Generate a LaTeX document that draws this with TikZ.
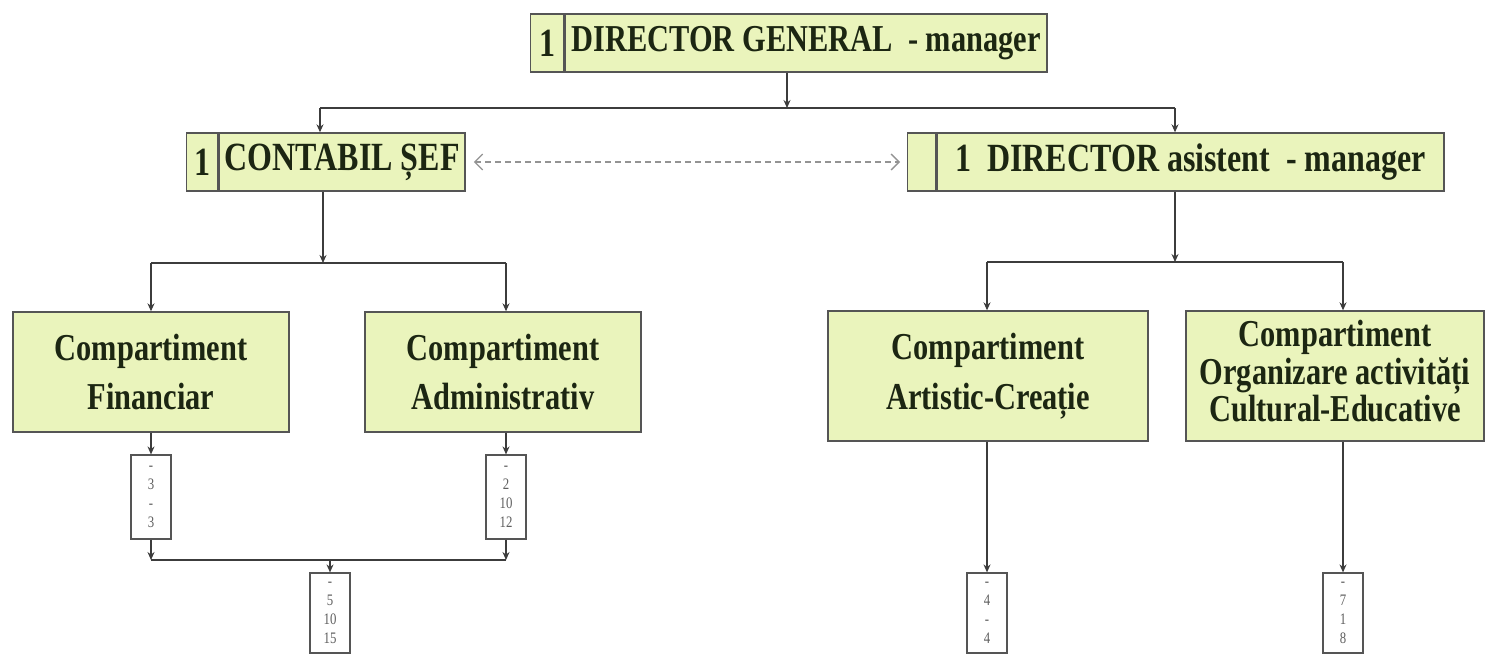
\documentclass[tikz,border=0pt]{standalone}
\usepackage{fontspec}
\setmainfont{Liberation Serif}[FakeStretch=0.8]
\usetikzlibrary{positioning, arrows.meta}
\definecolor{boxfill}{RGB}{234,244,188}
\definecolor{boxline}{RGB}{85,85,85}
\definecolor{boxtext}{RGB}{28,38,18}
\definecolor{linkcolor}{RGB}{60,60,60}
\definecolor{counttext}{RGB}{95,95,95}

\begin{document}
\begin{tikzpicture}[x=0.5pt, y=-0.5pt,
    cell/.style={draw=boxline, line width=0.7pt, fill=boxfill, text=boxtext, inner sep=0pt,
        font=\fontsize{20}{22}\selectfont\bfseries},
    head/.style={cell, minimum height=29pt},
    dept/.style={cell, align=center, font=\fontsize{19}{22}\selectfont\bfseries},
    count/.style={draw=boxline, line width=0.6pt, fill=white, text=counttext, inner sep=0pt,
        font=\fontsize{8}{9.5}\selectfont, align=center, minimum width=20pt},
    link/.style={draw=linkcolor, line width=0.6pt},
    arrow/.style={link, -{Stealth[length=4pt, width=3.5pt]}},
    dashlink/.style={draw=gray!85, line width=0.65pt, dash pattern=on 3pt off 2pt,
        {Straight Barb[length=4pt, width=8pt]}-{Straight Barb[length=4pt, width=8pt]},
        shorten <=4pt, shorten >=3.5pt},
]
    \useasboundingbox (0,0) rectangle (1487,655);

    % management
    \node[head, minimum width=16.5pt, anchor=west] (dgnum) at (530,43) {1};
    \node[head, minimum width=241pt, right=0pt of dgnum, font=\fontsize{19}{22}\selectfont\bfseries] (dg)
        {DIRECTOR GENERAL\ \ - manager};
    \node[head, minimum width=15.5pt, anchor=west] (csnum) at (186,162) {1};
    \node[head, minimum width=123pt, right=0pt of csnum] (cs) {CONTABIL ȘEF};
    \node[head, minimum width=14pt, anchor=west] (danum) at (907,162) {};
    \node[head, minimum width=253.5pt, right=0pt of danum] (da) {1\ \ DIRECTOR asistent\ \ - manager};

    % compartments
    \node[dept, minimum width=138pt, minimum height=60pt] (fin) at (151,372) {Compartiment\\[2.5pt]Financiar};
    \node[dept, minimum width=138pt, minimum height=60pt] (adm) at (503,372) {Compartiment\\[2.5pt]Administrativ};
    \node[dept, minimum width=160pt, minimum height=65pt] (art) at (988,376) {Compartiment\\[3pt]Artistic-Creație};
    \node[dept, minimum width=149pt, minimum height=65pt, font=\fontsize{19}{17.5}\selectfont\bfseries] (org) at (1335,376)
        {\raisebox{4pt}{\begin{tabular}{@{}c@{}}Compartiment\\Organizare activități\\Cultural-Educative\end{tabular}}};

    % staff counts
    \node[count, minimum height=42pt] (fincnt) at (151,497) {-\\3\\-\\3};
    \node[count, minimum height=42pt] (admcnt) at (506,497) {-\\2\\10\\12};
    \node[count, minimum height=40pt] (totcnt) at (330,613) {-\\5\\10\\15};
    \node[count, minimum height=40pt] (artcnt) at (987,613) {-\\4\\-\\4};
    \node[count, minimum height=40pt] (orgcnt) at (1343,613) {-\\7\\1\\8};

    % connectors
    \coordinate (j1) at (787,108);
    \coordinate (jl) at (320,108);
    \coordinate (jr) at (1175,108);
    \draw[arrow] (j1 |- dg.south) -- (j1);
    \draw[link] (jl) -- (jr);
    \draw[arrow] (jl) -- (jl |- cs.north);
    \draw[arrow] (jr) -- (jr |- da.north);
    \draw[dashlink] (cs.east) -- (danum.west);

    \coordinate (j2) at (323,263);
    \draw[arrow] (j2 |- cs.south) -- (j2);
    \draw[link] (fincnt |- j2) -- (admcnt |- j2);
    \draw[arrow] (fincnt |- j2) -- (fincnt |- fin.north);
    \draw[arrow] (admcnt |- j2) -- (admcnt |- adm.north);

    \coordinate (j3) at (1175,262);
    \draw[arrow] (j3 |- da.south) -- (j3);
    \draw[link] (artcnt |- j3) -- (orgcnt |- j3);
    \draw[arrow] (artcnt |- j3) -- (artcnt |- art.north);
    \draw[arrow] (orgcnt |- j3) -- (orgcnt |- org.north);

    \coordinate (j4) at (330,560);
    \draw[arrow] (fincnt |- fin.south) -- (fincnt.north);
    \draw[arrow] (admcnt |- adm.south) -- (admcnt.north);
    \draw[arrow] (fincnt.south) -- (fincnt |- j4);
    \draw[arrow] (admcnt.south) -- (admcnt |- j4);
    \draw[link] (fincnt |- j4) -- (admcnt |- j4);
    \draw[arrow] (j4) -- (totcnt.north);
    \draw[arrow] (artcnt |- art.south) -- (artcnt.north);
    \draw[arrow] (orgcnt |- org.south) -- (orgcnt.north);
\end{tikzpicture}
\end{document}
